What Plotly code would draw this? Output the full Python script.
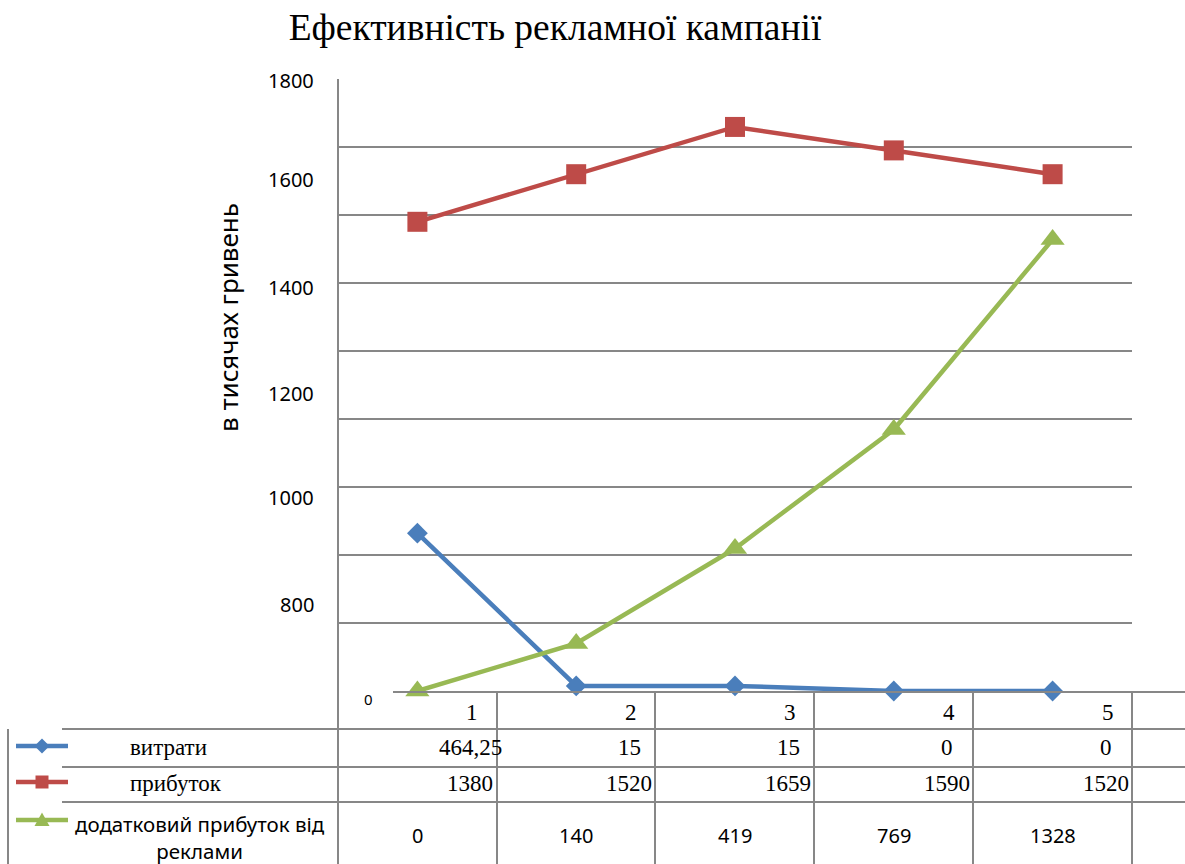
import plotly.graph_objects as go

# ---------------- data ----------------
categories = ["1", "2", "3", "4", "5"]
vytraty = [464.25, 15, 15, 0, 0]
prybutok = [1380, 1520, 1659, 1590, 1520]
dodatkovyi = [0, 140, 419, 769, 1328]

series_names = ["витрати", "прибуток", "додатковий прибуток від<br>реклами"]
title_text = "Ефективність рекламної кампанії"
y_title = "в тисячах гривень"

# printed axis labels (as they appear on the original) and where they sit
y_tick_text = ["1800", "1600", "1400", "1200", "1000", "800"]
y_tick_pos = [1797, 1503, 1188, 876, 568, 253]
y_zero_text = "0"
grid_vals = [200, 400, 600, 800, 1000, 1200, 1400, 1600, 1800]

# ---------------- layout constants (pixels) ----------------
W, H = 1185, 864
PL, PR, PT, PB = 338, 1132, 79, 691   # plot area


def X(px):
    return px / W


def Y(py):
    return 1 - py / H


BLUE = "#4A7EBB"
RED = "#BE4B48"
GREEN = "#98B954"
GRID = "#878787"
SERIF = "Liberation Serif"
SANS = "Noto Sans"

fig = go.Figure()
fig.add_trace(go.Scatter(x=categories, y=vytraty, mode="lines+markers",
                         line=dict(color=BLUE, width=4.5),
                         marker=dict(symbol="diamond", size=16, color=BLUE),
                         cliponaxis=False, showlegend=False))
fig.add_trace(go.Scatter(x=categories, y=prybutok, mode="lines+markers",
                         line=dict(color=RED, width=4.5),
                         marker=dict(symbol="square", size=20, color=RED),
                         cliponaxis=False, showlegend=False))
fig.add_trace(go.Scatter(x=categories, y=dodatkovyi, mode="lines+markers",
                         line=dict(color=GREEN, width=4.5),
                         marker=dict(symbol="triangle-up", size=21, color=GREEN),
                         cliponaxis=False, showlegend=False))

shapes = []
LW = 2
# table horizontal lines
shapes.append(dict(type="line", xref="paper", yref="paper", x0=X(393), x1=X(W), y0=Y(692), y1=Y(692),
                   line=dict(color=GRID, width=LW)))
for yy in (729, 767, 802):
    shapes.append(dict(type="line", xref="paper", yref="paper", x0=X(62), x1=X(W), y0=Y(yy), y1=Y(yy),
                       line=dict(color=GRID, width=LW)))
# table vertical lines
shapes.append(dict(type="line", xref="paper", yref="paper", x0=X(8), x1=X(8), y0=Y(729), y1=0,
                   line=dict(color=GRID, width=LW)))
shapes.append(dict(type="line", xref="paper", yref="paper", x0=X(PL), x1=X(PL), y0=Y(PT), y1=0,
                   line=dict(color=GRID, width=LW)))
for xx in (497, 655, 814, 973, 1132):
    shapes.append(dict(type="line", xref="paper", yref="paper", x0=X(xx), x1=X(xx), y0=Y(692), y1=0,
                       line=dict(color=GRID, width=LW)))


# legend keys inside the table
def diamond(cx, cy, h):
    return (f"M {X(cx-h)},{Y(cy)} L {X(cx)},{Y(cy-h)} L {X(cx+h)},{Y(cy)} "
            f"L {X(cx)},{Y(cy+h)} Z")


def square(cx, cy, h):
    return (f"M {X(cx-h)},{Y(cy-h)} L {X(cx+h)},{Y(cy-h)} L {X(cx+h)},{Y(cy+h)} "
            f"L {X(cx-h)},{Y(cy+h)} Z")


def triangle(cx, cy, h):
    return (f"M {X(cx-h)},{Y(cy+h*0.8)} L {X(cx+h)},{Y(cy+h*0.8)} L {X(cx)},{Y(cy-h)} Z")


key_rows = [(746, BLUE, diamond, 7.5), (782, RED, square, 6.5), (820, GREEN, triangle, 7.5)]
for yy, col, fn, h in key_rows:
    shapes.append(dict(type="line", xref="paper", yref="paper", x0=X(16), x1=X(68), y0=Y(yy), y1=Y(yy),
                       line=dict(color=col, width=4.5), layer="above"))
    shapes.append(dict(type="path", xref="paper", yref="paper", path=fn(42, yy, h),
                       fillcolor=col, line=dict(color=col, width=0), layer="above"))

annotations = []
# y tick labels
for txt, pos in zip(y_tick_text, y_tick_pos):
    annotations.append(dict(x=X(316), xref="paper", xanchor="right", y=pos, yref="y",
                            yanchor="middle", text=txt, showarrow=False,
                            font=dict(family=SANS, size=20, color="#000")))
annotations.append(dict(x=X(368), xref="paper", xanchor="center", y=Y(699), yref="paper",
                        yanchor="middle", text=y_zero_text, showarrow=False,
                        font=dict(family=SANS, size=15, color="#000")))

# y axis title
annotations.append(dict(x=X(228), y=Y(318), xref="paper", yref="paper", text=y_title,
                        textangle=-90, showarrow=False, xanchor="center", yanchor="middle",
                        font=dict(family=SANS, size=26, color="#000")))


def fmt(v):
    return f"{v:g}".replace(".", ",")


# table contents
for i, c in enumerate(categories):
    annotations.append(dict(x=i, xref="x", y=Y(712), yref="paper", text=c, showarrow=False,
                            xanchor="center", yanchor="middle", xshift=55,
                            font=dict(family=SERIF, size=23, color="#000")))
    annotations.append(dict(x=i, xref="x", y=Y(747), yref="paper", text=fmt(vytraty[i]),
                            showarrow=False, xanchor="center", yanchor="middle", xshift=53,
                            font=dict(family=SERIF, size=23, color="#000")))
    annotations.append(dict(x=i, xref="x", y=Y(783), yref="paper", text=fmt(prybutok[i]),
                            showarrow=False, xanchor="center", yanchor="middle", xshift=53,
                            font=dict(family=SERIF, size=23, color="#000")))
    annotations.append(dict(x=i, xref="x", y=Y(835), yref="paper", text=fmt(dodatkovyi[i]),
                            showarrow=False, xanchor="center", yanchor="middle",
                            font=dict(family=SANS, size=20, color="#000")))

annotations.append(dict(x=X(128), xref="paper", y=Y(747), yref="paper", text=series_names[0],
                        showarrow=False, xanchor="left", yanchor="middle",
                        font=dict(family=SERIF, size=23, color="#000")))
annotations.append(dict(x=X(128), xref="paper", y=Y(783), yref="paper", text=series_names[1],
                        showarrow=False, xanchor="left", yanchor="middle",
                        font=dict(family=SERIF, size=23, color="#000")))
annotations.append(dict(x=X(200), xref="paper", y=Y(837), yref="paper", text=series_names[2],
                        showarrow=False, xanchor="center", yanchor="middle", align="center",
                        font=dict(family=SANS, size=20.5, color="#000")))

fig.update_layout(
    width=W, height=H,
    margin=dict(l=0, r=0, t=0, b=0),
    paper_bgcolor="white", plot_bgcolor="white",
    title=dict(text=title_text, x=X(555), y=Y(27), xanchor="center", yanchor="middle",
               font=dict(family=SERIF, size=37.5, color="#000")),
    xaxis=dict(domain=[X(PL), X(PR)], type="category", categoryorder="array",
               categoryarray=categories, range=[-0.5, 4.5], showgrid=False,
               showticklabels=False, zeroline=False, showline=False, ticks=""),
    yaxis=dict(domain=[Y(PB), Y(PT)], range=[0, 1800], tickmode="array", tickvals=grid_vals,
               showticklabels=False, showgrid=True, gridcolor=GRID, gridwidth=1.6,
               zeroline=False, showline=False, ticks=""),
    shapes=shapes,
    annotations=annotations,
    showlegend=False,
)

fig.write_html("out.html")
